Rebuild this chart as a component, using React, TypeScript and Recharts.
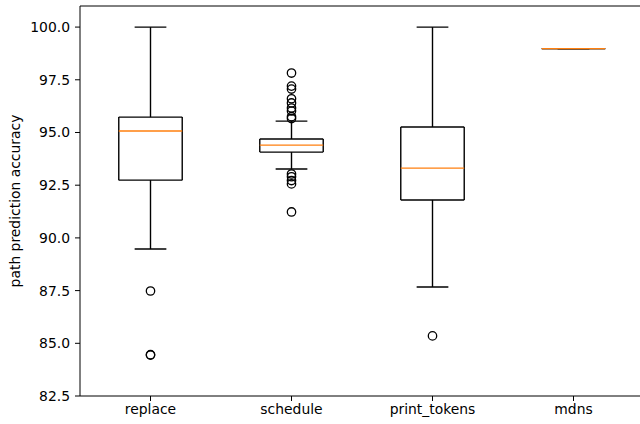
import * as React from "react";
import {
  ComposedChart,
  Label,
  ReferenceLine,
  Scatter,
  XAxis,
  YAxis,
} from "recharts";

const categories = ["replace", "schedule", "print_tokens", "mdns"];
const whiskerLow = [89.47, 93.27, 87.67, 98.98];
const q1 = [92.74, 94.07, 91.8, 98.98];
const median = [95.07, 94.4, 93.31, 98.98];
const q3 = [95.73, 94.69, 95.26, 98.98];
const whiskerHigh = [100.0, 95.54, 100.0, 98.98];
const outliers = [
  [87.48, 84.44, 84.46],
  [97.82, 97.2, 97.06, 96.6, 96.4, 96.16, 96.02, 95.75, 95.66, 93.03, 92.9, 92.72, 92.56, 91.23],
  [85.35],
  [],
];
const yTicks = [82.5, 85.0, 87.5, 90.0, 92.5, 95.0, 97.5, 100.0];

const Y_MIN = 82.5;
const Y_MAX = 101.0;
const BOX_HALF = 0.225;
const CAP_HALF = 0.1125;
const LINE_W = 1.4;
const FONT = "'DejaVu Sans', sans-serif";

const AXIS_TICK = { fill: "#000", fontSize: 13.9, fontFamily: FONT };

type Seg = { key: string; pts: [{ x: number; y: number }, { x: number; y: number }]; color: string };

/** Every line of every box: sides, whiskers, caps and the median. */
function boxSegments(): Seg[] {
  const segs: Seg[] = [];
  categories.forEach((c, i) => {
    const x = i + 1;
    const l = x - BOX_HALF;
    const r = x + BOX_HALF;
    const add = (name: string, x1: number, y1: number, x2: number, y2: number, color = "#000") =>
      segs.push({ key: `${c}-${name}`, pts: [{ x: x1, y: y1 }, { x: x2, y: y2 }], color });
    add("wlo", x, whiskerLow[i], x, q1[i]);
    add("whi", x, q3[i], x, whiskerHigh[i]);
    add("caplo", x - CAP_HALF, whiskerLow[i], x + CAP_HALF, whiskerLow[i]);
    add("caphi", x - CAP_HALF, whiskerHigh[i], x + CAP_HALF, whiskerHigh[i]);
    add("left", l, q1[i], l, q3[i]);
    add("right", r, q1[i], r, q3[i]);
    add("bottom", l, q1[i], r, q1[i]);
    add("top", l, q3[i], r, q3[i]);
    add("median", l, median[i], r, median[i], "#ff7f0e");
  });
  return segs;
}

const fliers = outliers.flatMap((vals, i) => vals.map((y) => ({ x: i + 1, y })));

function Flier(props: any) {
  const { cx, cy } = props;
  if (cx == null || cy == null) return null;
  return <circle cx={cx} cy={cy} r={4.2} fill="none" stroke="#000" strokeWidth={1.3} />;
}

export default function App() {
  return (
    <div
      style={{
        position: "absolute",
        left: 0,
        top: 0,
        width: 640,
        height: 424,
        overflow: "hidden",
        background: "#fff",
      }}
    >
      <ComposedChart width={660} height={424} margin={{ top: 6, right: 16, bottom: 0, left: 0 }}>
        <XAxis
          type="number"
          dataKey="x"
          domain={[0.5, 4.5]}
          ticks={[1, 2, 3, 4]}
          allowDataOverflow
          tickFormatter={(v: number) => categories[v - 1] ?? ""}
          tick={AXIS_TICK}
          tickSize={5}
          tickMargin={3}
          stroke="#000"
          height={28}
        />
        <YAxis
          type="number"
          dataKey="y"
          domain={[Y_MIN, Y_MAX]}
          ticks={yTicks}
          allowDataOverflow
          tickFormatter={(v: number) => v.toFixed(1)}
          tick={AXIS_TICK}
          tickSize={5}
          tickMargin={5}
          stroke="#000"
          width={80}
        >
          <Label
            value="path prediction accuracy"
            angle={-90}
            position="center"
            dx={-25}
            style={{ fill: "#000", fontSize: 13.9, fontFamily: FONT }}
          />
        </YAxis>
        <ReferenceLine y={Y_MAX} stroke="#000" strokeWidth={1} />
        {boxSegments().map((s) => (
          <ReferenceLine
            key={s.key}
            segment={s.pts}
            stroke={s.color}
            strokeWidth={LINE_W}
            ifOverflow="visible"
          />
        ))}
        <Scatter data={fliers} shape={<Flier />} isAnimationActive={false} />
      </ComposedChart>
    </div>
  );
}
